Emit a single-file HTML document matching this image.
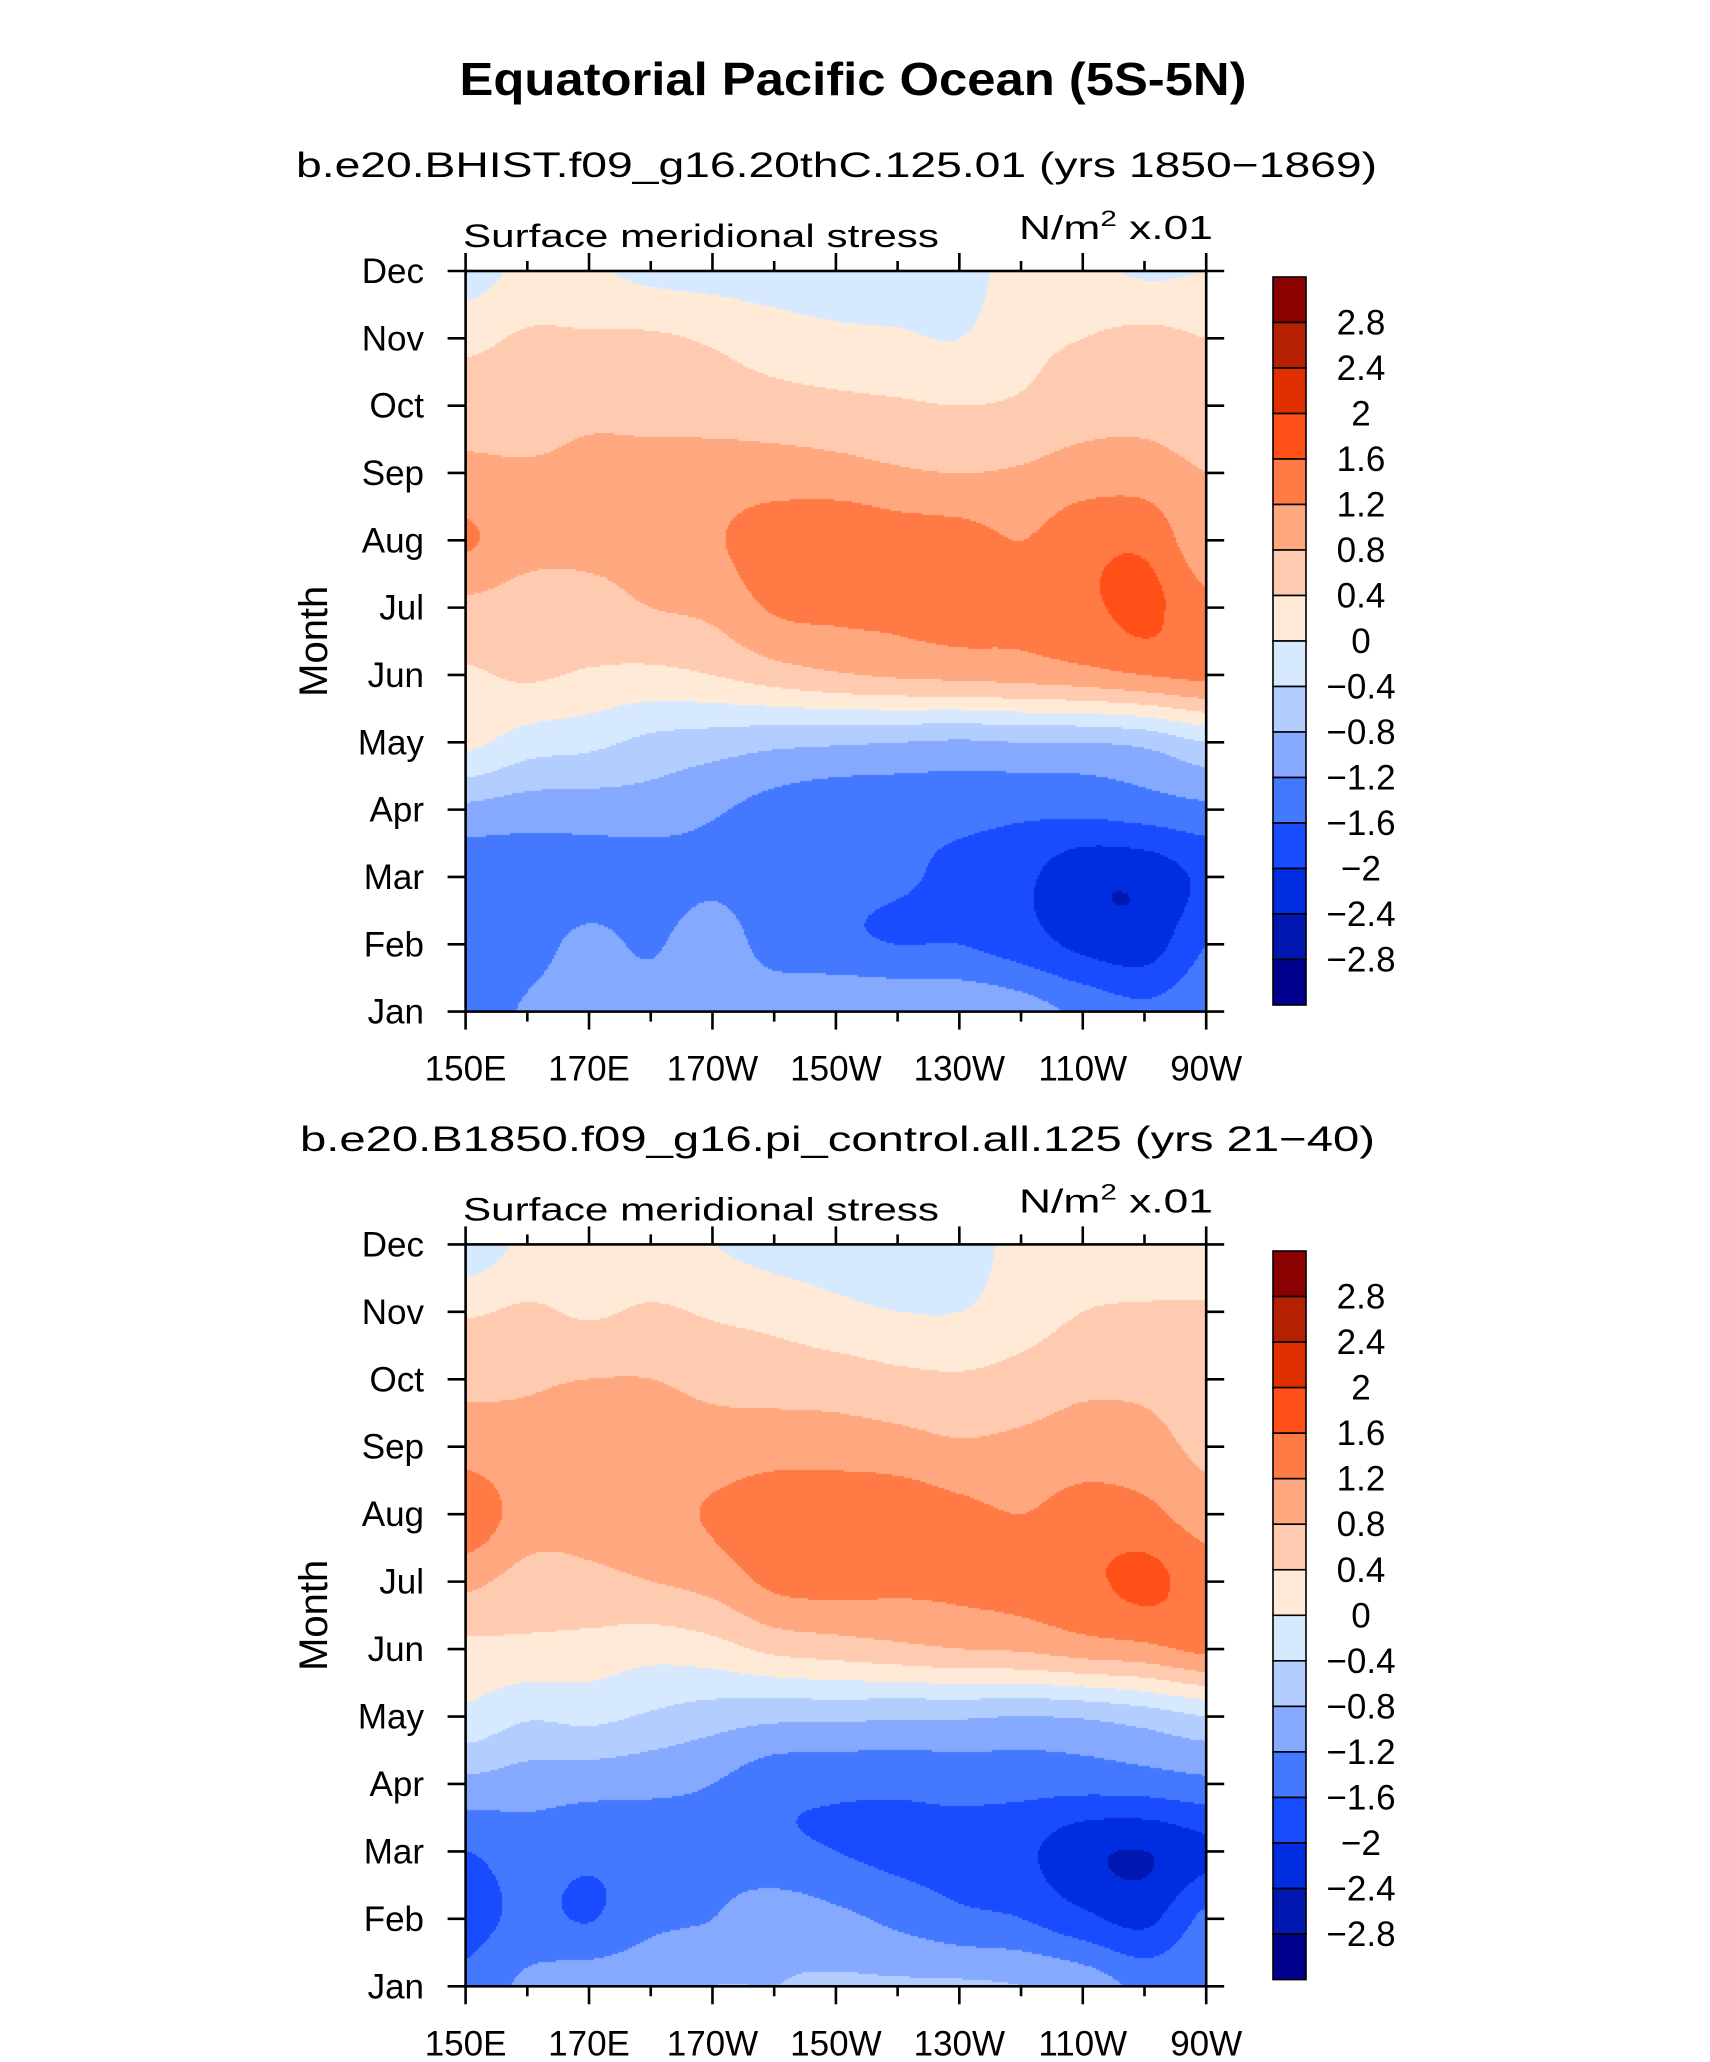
<!DOCTYPE html>
<html><head><meta charset="utf-8">
<style>
html,body{margin:0;padding:0;background:#fff;}
#wrap{position:relative;width:1710px;height:2062px;overflow:hidden;background:#fff;}
canvas{position:absolute;}
svg{position:absolute;left:0;top:0;}
text{font-family:"Liberation Sans",sans-serif;fill:#000;}
</style></head>
<body>
<div id="wrap">
<canvas id="c1"></canvas>
<canvas id="c2"></canvas>
<svg id="svg" width="1710" height="2062"></svg>
</div>
<script>
// Data: rows = months Jan..Dec, cols = longitudes 150E..90W every 10 deg
const months = ["Jan","Feb","Mar","Apr","May","Jun","Jul","Aug","Sep","Oct","Nov","Dec"];
const lonLabels = ["150E","170E","170W","150W","130W","110W","90W"];
const levels = [-2.8,-2.4,-2,-1.6,-1.2,-0.8,-0.4,0,0.4,0.8,1.2,1.6,2,2.4,2.8];
const levelLabels = ["2.8","2.4","2","1.6","1.2","0.8","0.4","0","\u22120.4","\u22120.8","\u22121.2","\u22121.6","\u22122","\u22122.4","\u22122.8"];
const colors = ["#00008c","#0018b0","#002de0","#1a4cff","#4479ff","#84a9ff","#b4cdff","#d6e9ff","#ffead8","#ffcbb0","#ffa880","#ff7a45","#ff5018","#e03000","#b42000","#8b0000"];
const data1 = [
[-1.45,-1.15,-1.05,-1.0,-0.95,-0.85,-0.8,-0.8,-0.85,-1.0,-1.3,-1.5,-1.3],
[-1.5,-1.35,-1.1,-1.25,-0.95,-1.4,-1.5,-1.6,-1.6,-1.8,-2.1,-2.2,-1.6],
[-1.5,-1.45,-1.4,-1.4,-1.3,-1.45,-1.5,-1.55,-1.7,-1.9,-2.3,-2.3,-1.9],
[-0.9,-1.0,-1.0,-1.0,-1.15,-1.35,-1.45,-1.45,-1.45,-1.5,-1.5,-1.4,-1.3],
[0.1,-0.2,-0.3,-0.5,-0.6,-0.7,-0.75,-0.8,-0.85,-0.8,-0.8,-0.7,-0.4],
[0.35,0.45,0.35,0.3,0.4,0.6,0.75,0.85,0.9,0.95,1.05,1.2,1.3],
[0.7,0.6,0.65,0.8,0.9,1.25,1.3,1.3,1.35,1.3,1.5,1.7,1.3],
[1.25,0.95,0.9,0.95,1.15,1.4,1.5,1.4,1.35,1.2,1.45,1.5,0.9],
[0.9,0.85,0.9,0.95,1.0,1.0,0.95,0.85,0.8,0.85,1.0,1.0,0.8],
[0.6,0.6,0.7,0.65,0.6,0.55,0.5,0.45,0.4,0.45,0.6,0.65,0.5],
[0.3,0.45,0.45,0.45,0.35,0.2,0.1,0.05,0.0,0.3,0.4,0.5,0.4],
[-0.2,0.1,0.05,-0.1,-0.15,-0.2,-0.25,-0.2,-0.2,0.2,0.1,-0.05,0.0]];
const data2 = [
[-1.5,-1.1,-0.95,-0.9,-0.8,-0.8,-0.75,-0.75,-0.75,-0.8,-0.95,-1.3,-1.2],
[-1.75,-1.5,-1.62,-1.3,-1.2,-0.95,-1.1,-1.3,-1.5,-1.6,-1.9,-2.1,-1.5],
[-1.6,-1.4,-1.5,-1.4,-1.3,-1.5,-1.6,-1.7,-1.75,-1.9,-2.3,-2.4,-2.1],
[-0.9,-1.0,-1.05,-1.1,-1.2,-1.45,-1.5,-1.5,-1.45,-1.45,-1.45,-1.4,-1.3],
[-0.1,-0.35,-0.3,-0.45,-0.6,-0.7,-0.7,-0.75,-0.75,-0.8,-0.75,-0.6,-0.4],
[0.3,0.3,0.25,0.15,0.25,0.5,0.6,0.7,0.8,0.85,1.0,1.1,1.3],
[0.9,0.65,0.7,0.8,0.95,1.3,1.35,1.3,1.3,1.35,1.5,1.7,1.4],
[1.5,1.0,0.95,1.05,1.25,1.5,1.5,1.45,1.3,1.2,1.35,1.3,1.0],
[1.0,0.9,0.95,0.95,0.95,1.0,1.0,0.95,0.85,0.9,1.0,0.95,0.7],
[0.7,0.75,0.8,0.8,0.7,0.65,0.6,0.5,0.45,0.55,0.7,0.7,0.6],
[0.35,0.45,0.35,0.45,0.35,0.25,0.1,0.0,0.0,0.2,0.4,0.45,0.45],
[-0.3,0.1,0.15,0.1,0.0,-0.15,-0.2,-0.25,-0.15,0.1,0.15,0.1,0.1]];

const NS="http://www.w3.org/2000/svg";
const svg=document.getElementById('svg');
function mk(tag,attrs,parent,txt){const e=document.createElementNS(NS,tag);for(const k in attrs)e.setAttribute(k,attrs[k]);if(txt!==undefined)e.textContent=txt;(parent||svg).appendChild(e);return e;}

const PL=465.6, PR=1206.2, PW=PR-PL;
function xScale(lonIdx){return PL+lonIdx/12*PW;}
function colorFor(v){let i=0;while(i<levels.length&&v>=levels[i])i++;return colors[i];}
function cr(p0,p1,p2,p3,t){return 0.5*((2*p1)+(-p0+p2)*t+(2*p0-5*p1+4*p2-p3)*t*t+(-p0+3*p1-3*p2+p3)*t*t*t);}
function sample(d,fy,fx){
  const iy=Math.min(Math.floor(fy),10), ix=Math.min(Math.floor(fx),11);
  const ty=fy-iy, tx=fx-ix;
  const g=(r,c)=>d[Math.max(0,Math.min(11,r))][Math.max(0,Math.min(12,c))];
  const rows=[];
  for(let r=-1;r<=2;r++){rows.push(cr(g(iy+r,ix-1),g(iy+r,ix),g(iy+r,ix+1),g(iy+r,ix+2),tx));}
  return cr(rows[0],rows[1],rows[2],rows[3],ty);
}

function panel(cid,d,top,bottom,cbTop,cbBot,subtitle,subY,subX1,subX2){
  const PH=bottom-top;
  const yScale=m=>bottom-m/11*PH;
  const cv=document.getElementById(cid);
  const W=Math.round(PW),H=Math.round(PH);
  cv.width=W;cv.height=H;cv.style.left=PL+'px';cv.style.top=top+'px';
  const ctx=cv.getContext('2d');
  const step=2;
  for(let py=0;py<H;py+=step){
    for(let px=0;px<W;px+=step){
      const fx=(px+step/2)/W*12, fy=(H-(py+step/2))/H*11;
      ctx.fillStyle=colorFor(sample(d,fy,fx));
      ctx.fillRect(px,py,step,step);
    }
  }
  const st=mk('text',{x:(subX1+subX2)/2,y:subY,'text-anchor':'middle','font-size':35,textLength:subX2-subX1,lengthAdjust:'spacingAndGlyphs'},svg,subtitle);
  
  const lt=mk('text',{x:463,y:top-24,'font-size':32,textLength:476,lengthAdjust:'spacingAndGlyphs'},svg,'Surface meridional stress');
  
  const ut=mk('text',{x:1019,y:top-32,'font-size':33,textLength:194,lengthAdjust:'spacingAndGlyphs'},svg);
  
  ut.innerHTML='N/m<tspan dy="-13" font-size="22">2</tspan><tspan dy="13"> x.01</tspan>';
  const fr=mk('rect',{x:PL,y:top,width:PW,height:PH,fill:'none',stroke:'#000','stroke-width':2.6});
  
  months.forEach((m,i)=>{
    const y=yScale(i);
    mk('line',{x1:PL-18,y1:y,x2:PL,y2:y,stroke:'#000','stroke-width':2.6});
    mk('line',{x1:PR,y1:y,x2:PR+18,y2:y,stroke:'#000','stroke-width':2.6});
    const t=mk('text',{x:424,y:y+12,'text-anchor':'end','font-size':35},svg,m);
    
  });
  for(let k=0;k<=12;k++){
    const x=xScale(k), maj=k%2===0, L=maj?18:10;
    mk('line',{x1:x,y1:top-L,x2:x,y2:top,stroke:'#000','stroke-width':2.6});
    mk('line',{x1:x,y1:bottom,x2:x,y2:bottom+L,stroke:'#000','stroke-width':2.6});
  }
  lonLabels.forEach((l,i)=>{
    const t=mk('text',{x:xScale(i*2),y:bottom+69,'text-anchor':'middle','font-size':35},svg,l);
    
  });
  const yt=mk('text',{x:0,y:0,'text-anchor':'middle','font-size':40,transform:`translate(327,${(top+bottom)/2}) rotate(-90)`},svg,'Month');
  
  const n=colors.length, bh=(cbBot-cbTop)/n;
  const cb=mk('g',{});
  for(let i=0;i<n;i++){
    const r=mk('rect',{x:1273,y:cbTop+i*bh,width:33,height:bh,fill:colors[n-1-i],stroke:'#000','stroke-width':1.6},cb);
    
  }
  levelLabels.forEach((l,i)=>{
    const t=mk('text',{x:1361,y:cbTop+(i+1)*bh+12,'text-anchor':'middle','font-size':35},cb,l);
    
  });
}

const tt=mk('text',{x:853,y:95,'text-anchor':'middle','font-size':46,'font-weight':'bold',textLength:787,lengthAdjust:'spacingAndGlyphs'},svg,'Equatorial Pacific Ocean (5S-5N)');


panel('c1',data1,271,1011.6,277,1005,'b.e20.BHIST.f09_g16.20thC.125.01 (yrs 1850\u22121869)',177,296,1377);
panel('c2',data2,1244.4,1986.3,1251,1979.6,'b.e20.B1850.f09_g16.pi_control.all.125 (yrs 21\u221240)',1151,300,1375);
</script>
</body></html>
